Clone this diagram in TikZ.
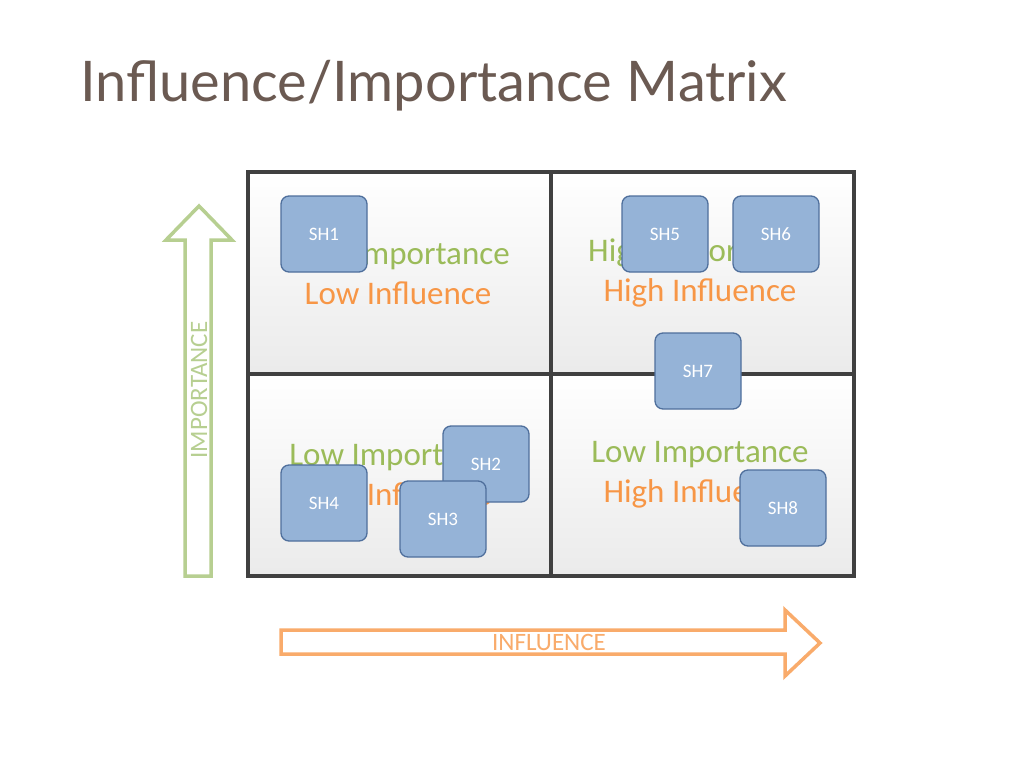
\documentclass[tikz,border=0pt]{standalone}
\usepackage{fontspec}
\setmainfont{Carlito}
\newfontfamily\titlefont{Lato}
\definecolor{tcol}{HTML}{6B5A52}
\definecolor{gr}{HTML}{9BBB59}
\definecolor{grl}{HTML}{B7CF91}
\definecolor{orn}{HTML}{F79646}
\definecolor{bfill}{HTML}{95B3D7}
\definecolor{bline}{HTML}{4F6F9C}
\begin{document}
\begin{tikzpicture}[x=1pt,y=-1pt,
  sh/.style={draw=bline,fill=bfill,line width=1.3pt,rounded corners=8pt,minimum width=86pt,minimum height=76pt,font=\fontsize{19}{19}\selectfont,text=white},
  quad/.style={font=\fontsize{33}{40}\selectfont,align=center}]
\useasboundingbox (0,0) rectangle (1024,768);
\fill[white] (0,0) rectangle (1024,768);
\node[anchor=base west,text=tcol,font=\titlefont\fontsize{56}{56}\selectfont,inner sep=0pt] (title) at (80,101) {Influence/Importance Matrix};
% quadrants
\foreach \x/\y in {248/172,551/172,248/374,551/374}{
  \shade[top color=white,bottom color=black!8] (\x,\y) rectangle ++(303,202);}
\draw[black!75,line width=3.5pt] (248,172) rectangle (854,576) (551,172)--(551,576) (248,374)--(854,374);
\node[quad] (q1) at (398,273) {\textcolor{gr}{High Importance}\\\textcolor{orn}{Low Influence}};
\node[quad] (q2) at (700,273) {\textcolor{gr}{High Importance}\\\textcolor{orn}{High Influence}};
\node[quad] (q3) at (398,475) {\textcolor{gr}{Low Importance}\\\textcolor{orn}{Low Influence}};
\node[quad] (q4) at (700,475) {\textcolor{gr}{Low Importance}\\\textcolor{orn}{High Influence}};
% arrows
\draw[grl,line width=3.5pt,fill=white] (185,576)--(185,240)--(166,240)--(199,206)--(232,240)--(211,240)--(211,576)--cycle;
\node[rotate=90,text=grl,font=\fontsize{25}{25}\selectfont] (imp) at (199,390) {IMPORTANCE};
\draw[orn!80,line width=3.5pt,fill=white] (281,630)--(785,630)--(785,610)--(820,643)--(785,676)--(785,654)--(281,654)--cycle;
\node[text=orn!80,font=\fontsize{25}{25}\selectfont] (inf) at (549,642) {INFLUENCE};
% boxes
\node[sh] (s1) at (324,234) {SH1};
\node[sh] (s5) at (665,234) {SH5};
\node[sh] (s6) at (776,234) {SH6};
\node[sh] (s7) at (698,371) {SH7};
\node[sh] (s2) at (486,464) {SH2};
\node[sh] (s4) at (324,503) {SH4};
\node[sh] (s3) at (443,519) {SH3};
\node[sh] (s8) at (783,508) {SH8};
\end{tikzpicture}
\end{document}
